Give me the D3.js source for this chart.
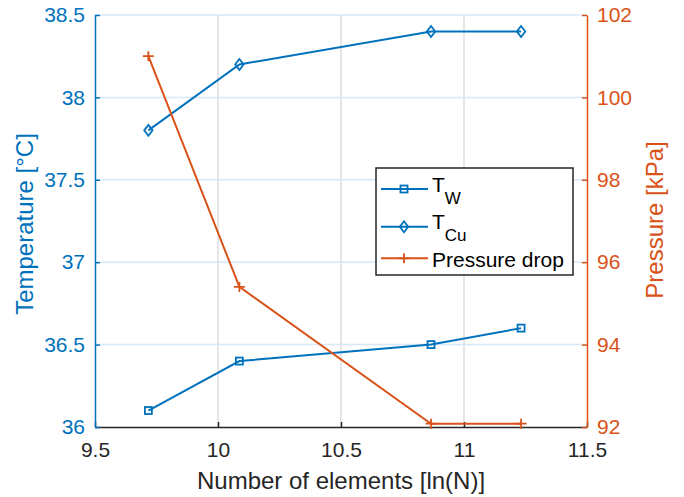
<!DOCTYPE html>
<meta charset="utf-8">
<script src="https://d3js.org/d3.v7.min.js"></script>
<style>
body { margin: 0; background: #fff; }
text { font-family: "Liberation Sans", Arial, sans-serif; }
</style>
<svg width="684" height="497"></svg>
<script>
// data
const lnN = [9.717, 10.087, 10.866, 11.232]
const tW = [36.1, 36.4, 36.5, 36.6]
const tCu = [37.8, 38.2, 38.4, 38.4]
const pressure = [101, 95.4, 92.08, 92.08]
const xTicks = [9.5, 10, 10.5, 11, 11.5]
const leftTicks = [36, 36.5, 37, 37.5, 38, 38.5]
const rightTicks = [92, 94, 96, 98, 100, 102]

const blue = "#0072BD", orange = "#D95319", dark = "#262626"
const L = 95, R = 587, T = 15, B = 427

const svg = d3.select("svg")
const x = d3.scaleLinear().domain([9.5, 11.5]).range([L, R])
const yL = d3.scaleLinear().domain([36, 38.5]).range([B, T])
const yR = d3.scaleLinear().domain([92, 102]).range([B, T])

// grid
svg.append("g").selectAll("line").data(xTicks.slice(1, -1)).join("line")
    .attr("x1", d => x(d)).attr("x2", d => x(d)).attr("y1", T).attr("y2", B)
    .attr("stroke", "#dedede").attr("stroke-width", 1.5)
svg.append("g").selectAll("line").data(leftTicks.slice(1)).join("line")
    .attr("x1", L).attr("x2", R).attr("y1", d => yL(d)).attr("y2", d => yL(d))
    .attr("stroke", "#d8e8f5").attr("stroke-width", 1.5)

// axes
function style(g, color) {
    g.select(".domain").attr("stroke", color).attr("stroke-width", 1.5)
    g.selectAll(".tick line").attr("stroke", color).attr("stroke-width", 1.5)
    g.selectAll("text").attr("fill", color).attr("font-size", 21)
        .attr("font-family", "Liberation Sans, Arial, sans-serif")
}
const ax = svg.append("g").attr("transform", `translate(0,${B})`)
    .call(d3.axisBottom(x).tickValues(xTicks).tickSizeInner(-5).tickSizeOuter(0).tickPadding(15).tickFormat(d3.format("")))
style(ax, dark)
const al = svg.append("g").attr("transform", `translate(${L},0)`)
    .call(d3.axisLeft(yL).tickValues(leftTicks).tickSizeInner(-5).tickSizeOuter(0).tickPadding(10).tickFormat(d3.format("")))
style(al, blue)
const ar = svg.append("g").attr("transform", `translate(${R},0)`)
    .call(d3.axisRight(yR).tickValues(rightTicks).tickSizeInner(-5).tickSizeOuter(0).tickPadding(10))
style(ar, orange)

// axis labels
svg.append("text").attr("x", (L + R) / 2).attr("y", 489).attr("text-anchor", "middle")
    .attr("font-size", 24).attr("fill", dark).text("Number of elements [ln(N)]")
svg.append("text").attr("transform", "translate(33,224) rotate(-90)").attr("text-anchor", "middle")
    .attr("font-size", 24).attr("fill", blue).text("Temperature [°C]")
svg.append("text").attr("transform", "translate(663,220) rotate(-90)").attr("text-anchor", "middle")
    .attr("font-size", 24).attr("fill", orange).text("Pressure [kPa]")

// markers
function square(g) { g.append("rect").attr("x", -3.5).attr("y", -3.5).attr("width", 7).attr("height", 7) }
function diamond(g) { g.append("path").attr("d", "M0,-5.5L4.2,0L0,5.5L-4.2,0Z") }
function plus(g) { g.append("path").attr("d", "M-5.5,0H5.5M0,-5V5") }

function series(vals, y, color, mark) {
    const pts = lnN.map((v, i) => [x(v), y(vals[i])])
    svg.append("path").attr("d", d3.line()(pts)).attr("fill", "none")
        .attr("stroke", color).attr("stroke-width", 2)
    svg.append("g").selectAll("g").data(pts).join("g")
        .attr("transform", d => `translate(${d[0]},${d[1]})`)
        .attr("fill", "none").attr("stroke", color).attr("stroke-width", 1.8)
        .each(function () { mark(d3.select(this)) })
}
series(tW, yL, blue, square)
series(tCu, yL, blue, diamond)
series(pressure, yR, orange, plus)

// legend
const lg = svg.append("g").attr("transform", "translate(376,168)")
lg.append("rect").attr("width", 197).attr("height", 107).attr("fill", "#fff")
    .attr("stroke", dark).attr("stroke-width", 1.5)
const items = [
    {name: "T", sub: "W", color: blue, mark: square, ly: 21, ty: 24},
    {name: "T", sub: "Cu", color: blue, mark: diamond, ly: 58.7, ty: 61},
    {name: "Pressure drop", sub: null, color: orange, mark: plus, ly: 90.3, ty: 99}
]
items.forEach(it => {
    lg.append("line").attr("x1", 5).attr("x2", 52).attr("y1", it.ly).attr("y2", it.ly)
        .attr("stroke", it.color).attr("stroke-width", 2)
    const m = lg.append("g").attr("transform", `translate(28,${it.ly})`)
        .attr("fill", "none").attr("stroke", it.color).attr("stroke-width", 1.8)
    it.mark(m)
    const t = lg.append("text").attr("x", 56).attr("y", it.ty).attr("font-size", 21).attr("fill", "#000")
    t.append("tspan").text(it.name)
    if (it.sub) t.append("tspan").attr("dy", 11.5).attr("font-size", 17).text(it.sub)
})
</script>
